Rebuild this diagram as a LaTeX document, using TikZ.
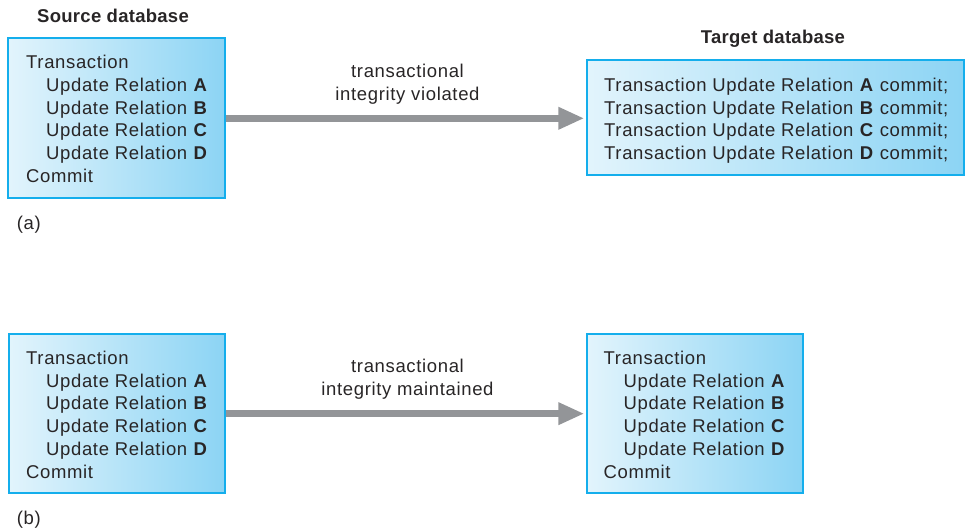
\documentclass[tikz,border=0pt]{standalone}
\usepackage{fontspec}
\setmainfont{Liberation Sans}[LetterSpace=3.5]
\usetikzlibrary{arrows.meta}
\definecolor{boxblue}{RGB}{20,174,236}
\definecolor{lightfill}{RGB}{226,244,252}
\definecolor{darkfill}{RGB}{140,212,244}
\definecolor{ink}{RGB}{40,37,38}
\definecolor{arrowgray}{RGB}{147,149,152}
\begin{document}
\begin{tikzpicture}[x=1pt,y=-1pt,
  dbbox/.style={draw=boxblue, line width=2pt, left color=lightfill, right color=darkfill, inner sep=0pt, rectangle},
  txt/.style={anchor=base west, inner sep=0pt, font=\fontsize{18.5}{22}\selectfont, text=ink},
  ttl/.style={txt, font=\fontsize{18.5}{22}\selectfont\bfseries\addfontfeatures{LetterSpace=1.5}},
  lbl/.style={txt, anchor=base},
  flow/.style={draw=arrowgray, line width=7pt, -{Triangle[length=26pt,width=21pt]}, shorten >=2pt}]
\useasboundingbox (0,0) rectangle (966,530);

% (a)
\node[ttl] (srcAtitle) at (37,22.7) {Source database};
\node[ttl] (tgtAtitle) at (700.7,43.3) {Target database};
\node[dbbox, minimum width=216.7pt, minimum height=160pt] (srcA) at (116.65,118.3) {};
\node[dbbox, minimum width=376.7pt, minimum height=114.7pt] (tgtA) at (775.65,117.35) {};

\node[txt] (sa1) at (26,68.4) {Transaction};
\node[txt] (sa2) at (46,91.2) {Update Relation \textbf{A}};
\node[txt] (sa3) at (46,114) {Update Relation \textbf{B}};
\node[txt] (sa4) at (46,136.8) {Update Relation \textbf{C}};
\node[txt] (sa5) at (46,159.6) {Update Relation \textbf{D}};
\node[txt] (sa6) at (26,182.4) {Commit};

\node[txt] (ta1) at (604,91.5) {Transaction Update Relation \textbf{A} commit;};
\node[txt] (ta2) at (604,114) {Transaction Update Relation \textbf{B} commit;};
\node[txt] (ta3) at (604,136.5) {Transaction Update Relation \textbf{C} commit;};
\node[txt] (ta4) at (604,159) {Transaction Update Relation \textbf{D} commit;};

\draw[flow] (srcA.east) -- (srcA.east -| tgtA.west);
\node[lbl] (la1) at (407.5,77.3) {transactional};
\node[lbl] (la2) at (407.5,100) {integrity violated};
\node[txt] (capa) at (16.7,229) {(a)};

% (b)
\node[dbbox, minimum width=216pt, minimum height=159.3pt] (srcB) at (116.7,413.65) {};
\node[dbbox, minimum width=215.4pt, minimum height=159.3pt] (tgtB) at (695,413.65) {};

\node[txt] (sb1) at (26,364.3) {Transaction};
\node[txt] (sb2) at (46,387.1) {Update Relation \textbf{A}};
\node[txt] (sb3) at (46,409.9) {Update Relation \textbf{B}};
\node[txt] (sb4) at (46,432.7) {Update Relation \textbf{C}};
\node[txt] (sb5) at (46,455.5) {Update Relation \textbf{D}};
\node[txt] (sb6) at (26,478.3) {Commit};

\node[txt] (tb1) at (603.5,364.3) {Transaction};
\node[txt] (tb2) at (623.5,387.1) {Update Relation \textbf{A}};
\node[txt] (tb3) at (623.5,409.9) {Update Relation \textbf{B}};
\node[txt] (tb4) at (623.5,432.7) {Update Relation \textbf{C}};
\node[txt] (tb5) at (623.5,455.5) {Update Relation \textbf{D}};
\node[txt] (tb6) at (603.5,478.3) {Commit};

\draw[flow] (srcB.east) -- (tgtB.west);
\node[lbl] (lb1) at (407.5,372.3) {transactional};
\node[lbl] (lb2) at (407.5,395) {integrity maintained};
\node[txt] (capb) at (16.7,524) {(b)};
\end{tikzpicture}
\end{document}
